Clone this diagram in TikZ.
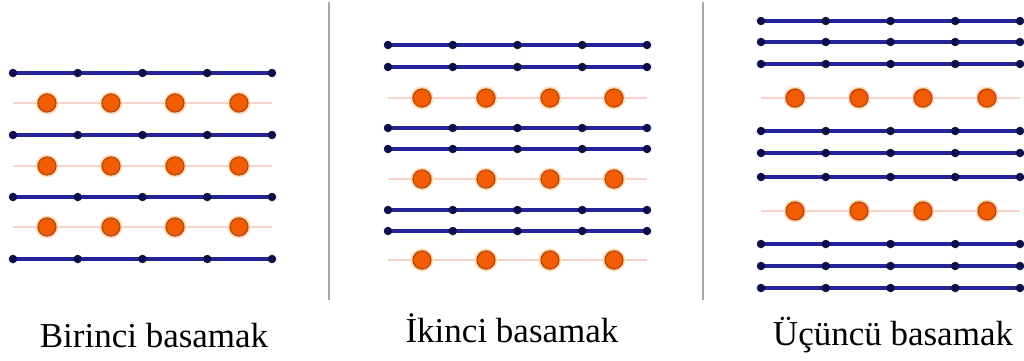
\documentclass[tikz,border=0pt]{standalone}
\usepackage{fontspec}
\setmainfont{Liberation Serif}
\definecolor{linecol}{HTML}{23239A}
\definecolor{dotcol}{HTML}{0E0E48}
\definecolor{orfill}{HTML}{F25C05}
\definecolor{ordraw}{HTML}{B84A10}
\definecolor{orhalo}{HTML}{FCDDB8}
\definecolor{faint}{HTML}{F7D2C8}
\definecolor{sepcol}{HTML}{A8A8A8}
\tikzset{
  bline/.style={draw=linecol, line width=3.2pt},
  bdot/.style={circle, fill=dotcol, inner sep=0pt, minimum size=8.5pt},
  oline/.style={draw=faint, line width=1.4pt},
  odot/.style={circle, fill=orfill, draw=ordraw, line width=1.3pt, inner sep=0pt, minimum size=18pt},
  ohalo/.style={circle, fill=orhalo, inner sep=0pt, minimum size=23pt},
  sep/.style={draw=sepcol, line width=2pt},
  lab/.style={font=\fontsize{35}{40}\selectfont, anchor=base, inner sep=0pt}
}
\newcommand{\bluerow}[2]{% x0, y
  \draw[bline] (#1,#2) -- ++(259,0);
  \foreach \k in {0,...,4} \node[bdot] at ({#1+\k*64.75},#2) {};
}
\newcommand{\orangerow}[2]{% x0, y
  \draw[oline] (#1,#2) -- ++(259,0);
  \foreach \k in {0,...,3} {
    \node[ohalo] at ({#1+34+\k*64},#2) {};
    \node[odot] at ({#1+34+\k*64},#2) {};
  }
}
\begin{document}
\begin{tikzpicture}[x=1pt,y=-1pt]
\useasboundingbox (0,0) rectangle (1024,360);
% panel 1
\foreach \y in {73,135,197,259} {\bluerow{13}{\y}}
\foreach \y in {103,166,227} {\orangerow{13}{\y}}
% panel 2
\foreach \y in {45,67,128,149,210,231} {\bluerow{388}{\y}}
\foreach \y in {98,179,260} {\orangerow{388}{\y}}
% panel 3
\foreach \y in {21,42,64,131,153,177,244,266,288} {\bluerow{761}{\y}}
\foreach \y in {98,211} {\orangerow{761}{\y}}
% separators
\coordinate (s1a) at (329,2); \coordinate (s1b) at (329,300);
\coordinate (s2a) at (703,2); \coordinate (s2b) at (703,300);
\draw[sep] (s1a) -- (s1b);
\draw[sep] (s2a) -- (s2b);
% labels
\node[lab] (l1) at (154,347) {Birinci basamak};
\node[lab] (l2) at (512,342) {İkinci basamak};
\node[lab] (l3) at (893,345) {Üçüncü basamak};
\end{tikzpicture}
\end{document}
